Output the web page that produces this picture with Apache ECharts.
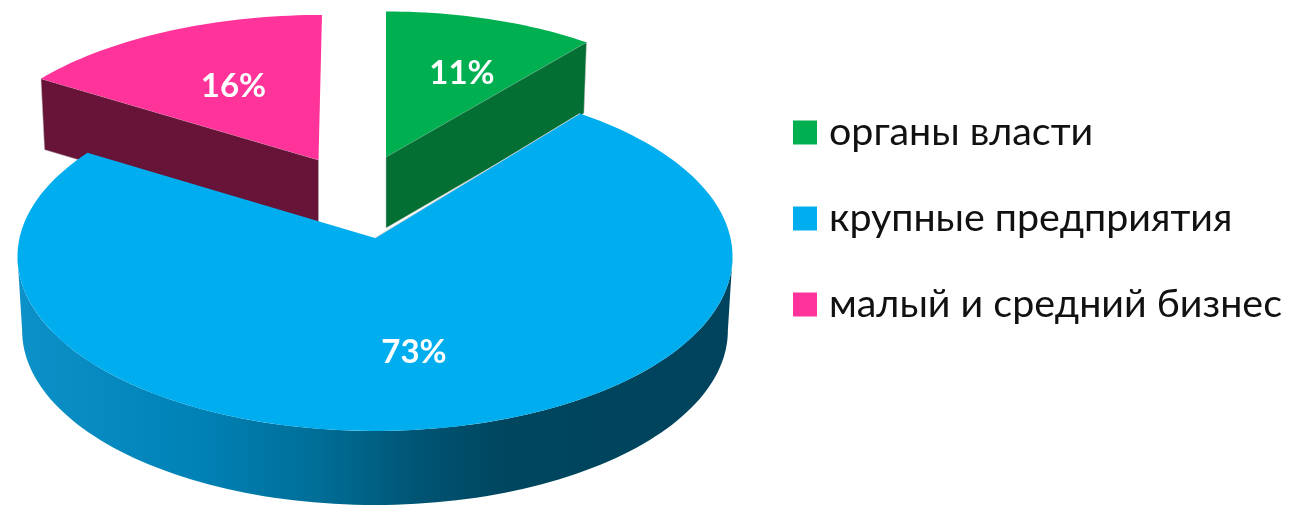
<!DOCTYPE html>
<html><head><meta charset="utf-8">
<style>html,body{margin:0;padding:0;background:#fff}#c{width:1291px;height:505px}</style>
<script src="https://cdn.jsdelivr.net/npm/echarts@6/dist/echarts.min.js"></script>
</head><body><div id="c"></div>
<script>
const categories = ['органы власти', 'крупные предприятия', 'малый и средний бизнес'];
const shares = [11, 73, 16];

const topColors = ['#00b050', '#00aeef', '#ff3399'];
const wallColors = ['#036f33', null, '#681338'];
const FONT = 'Lato, "Open Sans", sans-serif';

// Perspective model of the pie: top-face centre, radii, foreshortening, wall shrink
const PIE = {cx: 375, cy: 238, rx: 355.5, ry: 172.5, k: 0.106, wallShrink: 0.987};
// Per-slice explode offset, scale, view rotation, wall height, label anchor relative to the apex
const SLICE = [
  {dx: 11, dy: -81, sx: 0.957, sy: 0.933, shear: 0, rot: 0, wall: 71, lx: 76, ly: -84, z: 2},
  {dx: 0, dy: 0, sx: 1, sy: 1, shear: 0, rot: -1, wall: 74, lx: 39, ly: 114, z: 3},
  {dx: -56.5, dy: -78, sx: 0.984, sy: 0.93, shear: -0.024, rot: 0, wall: 71, lx: -85, ly: -74, z: 2}
];

const total = shares.reduce((a, b) => a + b, 0);
const starts = shares.map((_, i) => shares.slice(0, i).reduce((a, b) => a + b, 0) / total * 360);

function project(deg, r, s, level) {
  const a = (deg + s.rot) * Math.PI / 180;
  const x = Math.sin(a) * r, y = -Math.cos(a) * r;
  const w = 1 - PIE.k * y;
  let px = PIE.rx * x / w * s.sx, py = PIE.ry * y / w * s.sy;
  px += s.shear * py;
  if (level) { px *= PIE.wallShrink; py += s.wall; }
  return [PIE.cx + s.dx + px, PIE.cy + s.dy + py];
}

function arc(from, to, s, level) {
  const pts = [], n = Math.ceil((to - from) / 1.5);
  for (let i = 0; i <= n; i++) pts.push(project(from + (to - from) * i / n, 1, s, level));
  return pts;
}

function renderSlice(i) {
  return function (params, api) {
    const value = api.value(0);
    const from = starts[i], to = from + value / total * 360;
    const s = SLICE[i];
    const apex = project(0, 0, s, 0), apexB = project(0, 0, s, 1);
    const children = [];
    if (i === 1) {
      // visible outer wall runs between the two silhouette tangents
      const side = Math.acos(-PIE.k) * 180 / Math.PI;
      const wA = side - s.rot, wB = 360 - side - s.rot;
      const wallPts = arc(wA, wB, s, 0).concat(arc(wA, wB, s, 1).reverse());
      children.push({
        type: 'polygon', shape: {points: wallPts},
        style: {
          fill: new echarts.graphic.LinearGradient(18, 0, 733, 0, [
            {offset: 0, color: '#0c91c8'},
            {offset: 0.25, color: '#0082b6'},
            {offset: 0.42, color: '#006e97'},
            {offset: 0.56, color: '#005474'},
            {offset: 0.68, color: '#00465f'},
            {offset: 1, color: '#00435c'}
          ], true)
        }
      });
    } else {
      const cut = i === 0 ? to : from;
      const edge = project(cut, 1, s, 0), edgeB = project(cut, 1, s, 1);
      children.push({
        type: 'polygon', shape: {points: [apex, edge, edgeB, apexB]},
        style: {fill: wallColors[i], stroke: '#b9b9b9', lineWidth: 0.5}
      });
    }
    children.push({
      type: 'polygon', shape: {points: [apex].concat(arc(from, to, s, 0))},
      style: {fill: topColors[i]}
    });
    if (i === 1) {
      children.push({
        type: 'polyline', shape: {points: [apex, project(from, 1, s, 0)]},
        style: {fill: null, stroke: '#c8d3d6', lineWidth: 1}
      });
    }
    children.push({
      type: 'text',
      style: {
        x: apex[0] + s.lx, y: apex[1] + s.ly,
        text: value + '%', fill: '#fff', fontFamily: FONT, fontWeight: 700, fontSize: 33,
        align: 'center', verticalAlign: 'middle'
      }
    });
    return {type: 'group', children};
  };
}

const chart = echarts.init(document.getElementById('c'), null, {renderer: 'canvas'});
chart.setOption({
  animation: false,
  backgroundColor: '#fff',
  tooltip: {show: false},
  legend: {
    orient: 'vertical', left: 793, top: 113, padding: 0,
    data: categories, icon: 'rect',
    itemWidth: 24, itemHeight: 24, itemGap: 47,
    selectedMode: false,
    textStyle: {fontFamily: FONT, fontSize: 39.4, color: '#111', lineHeight: 24, padding: [0, 0, 0, 7]}
  },
  series: categories.map((name, i) => ({
    type: 'custom', name, coordinateSystem: 'none', silent: true, clip: false,
    z: SLICE[i].z,
    itemStyle: {color: topColors[i]},
    data: [[shares[i]]],
    renderItem: renderSlice(i)
  }))
});
</script></body></html>
